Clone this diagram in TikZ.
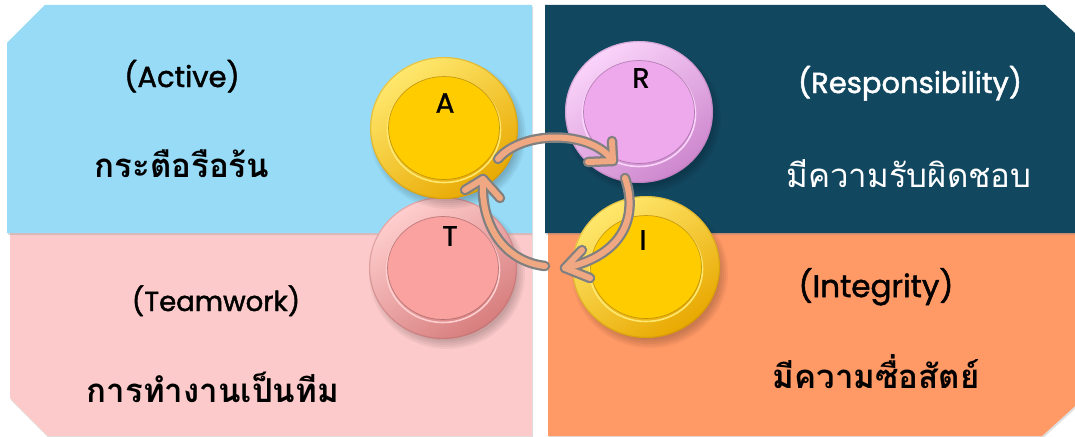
\documentclass[tikz,border=0pt]{standalone}
\usepackage{fontspec}
\newfontfamily\thaifont[Script=Thai]{Loma}
\newfontfamily\latfont[FakeBold=1.6]{Poppins}
\newfontfamily\letfont[FakeBold=1.2]{Poppins}
\usetikzlibrary{shadows,shapes.geometric,calc}
\definecolor{pblue}{RGB}{151,219,247}
\definecolor{ppink}{RGB}{252,202,202}
\definecolor{pdark}{RGB}{18,71,96}
\definecolor{porange}{RGB}{255,153,102}
\definecolor{goldbase}{RGB}{255,204,0}
\definecolor{golddark}{RGB}{232,168,0}
\definecolor{goldlight}{RGB}{255,232,110}
\definecolor{vbase}{RGB}{238,168,236}
\definecolor{vdark}{RGB}{205,135,205}
\definecolor{vlight}{RGB}{250,212,250}
\definecolor{rbase}{RGB}{250,162,160}
\definecolor{rdark}{RGB}{215,125,125}
\definecolor{rlight}{RGB}{255,206,206}
\definecolor{peach}{RGB}{240,168,130}
\definecolor{agray}{RGB}{128,128,128}
% #1 x, #2 y, #3 light, #4 base, #5 dark
\newcommand\coinpic[5]{%
  \begin{scope}[shift={(#1,#2)}]
    \foreach \k in {0,2,4,6,8}{
      \fill[black,opacity=.045] (4,6) ellipse [x radius=70+\k, y radius=67+\k];}
    \shade[top color=#3, middle color=#4, bottom color=#5, shading angle=35]
      (0,0) ellipse [x radius=74, y radius=71];
    \draw[#5!80!black, opacity=.35, line width=1.2pt] (0,0) ellipse [x radius=73.4, y radius=70.4];
    \draw[#3, line width=1.6pt] (0,2) ellipse [x radius=56.5, y radius=52.5];
    \fill[#4] (0,0) ellipse [x radius=55.5, y radius=51.5];
    \draw[#5!70!black, line width=.7pt, opacity=.6] (0,0) ellipse [x radius=55.5, y radius=51.5];
  \end{scope}}
\tikzset{
  panelshadow/.style={drop shadow={opacity=0.25, shadow xshift=1pt, shadow yshift=-2pt}},
  lat/.style={font=\latfont\fontsize{29}{34}\selectfont, anchor=base, inner sep=0pt},
  thb/.style={font=\thaifont\bfseries\fontsize{33}{38}\selectfont, anchor=base, inner sep=0pt},
  thr/.style={font=\thaifont\fontsize{33}{38}\selectfont, anchor=base, inner sep=0pt},
  coin/.style={ellipse, minimum width=148pt, minimum height=142pt, inner sep=0pt},
  letter/.style={font=\letfont\fontsize{28}{32}\selectfont, inner sep=0pt},
  arrowout/.style={draw=agray, line width=10.5pt, line cap=round, line join=round},
  arrowin/.style={draw=peach, line width=6pt, line cap=round, line join=round},
}
\begin{document}
\begin{tikzpicture}[x=1pt,y=-1pt]
\useasboundingbox (0,0) rectangle (1075,436);
\fill[white] (0,0) rectangle (1075,436);
% panels
\fill[ppink, panelshadow] (10,233) -- (532,233) -- (532,436) -- (48,436) -- (10,398) -- cycle;
\fill[porange, panelshadow] (548,233) -- (1075,233) -- (1075,406) -- (1042,436) -- (548,436) -- cycle;
\fill[pblue, panelshadow] (7,43) -- (45,5) -- (532,5) -- (532,233) -- (7,233) -- cycle;
\fill[pdark, panelshadow] (545,5) -- (1045,5) -- (1075,33) -- (1075,233) -- (545,233) -- cycle;
% texts
\node[lat] (tA) at (182,87) {(Active)};
\node[thb] (hA) at (182,177) {กระตือรือร้น};
\node[lat, text=white] (tR) at (910,93) {(Responsibility)};
\node[thr, text=white] (hR) at (909,187) {มีความรับผิดชอบ};
\node[lat, font=\latfont\fontsize{27.5}{32}\selectfont] (tT) at (216,311) {(Teamwork)};
\node[thb] (hT) at (213,402) {การทำงานเป็นทีม};
\node[lat, font=\latfont\fontsize{31}{36}\selectfont] (tI) at (876,297) {(Integrity)};
\node[thb] (hI) at (876,388) {มีความซื่อสัตย์};
% coins
\coinpic{443}{268}{rlight}{rbase}{rdark}
\coinpic{646}{267}{goldlight}{goldbase}{golddark}
\coinpic{444}{128}{goldlight}{goldbase}{golddark}
\coinpic{639}{112}{vlight}{vbase}{vdark}
\node[coin] (T) at (443,268) {};
\node[coin] (I) at (646,267) {};
\node[coin] (A) at (444,128) {};
\node[coin] (R) at (639,112) {};
\node[letter] (lA) at (445,103) {A};
\node[letter] (lR) at (641,78) {R};
\node[letter] (lT) at (450,236) {T};
\node[letter] (lI) at (643,240) {I};
% arrow coordinates
\coordinate (a1s) at ($(A)+(54,31)$);
\coordinate (a1e) at ($(R)+(-26,49)$);
\coordinate (a1u) at ($(R)+(-27,29)$);
\coordinate (a1l) at ($(R)+(-51,50)$);
\coordinate (a2s) at ($(R)+(-14,66)$);
\coordinate (a2e) at ($(I)+(-81,1)$);
\coordinate (a2u) at ($(I)+(-64,-17)$);
\coordinate (a2d) at ($(I)+(-56,11)$);
\coordinate (a3s) at ($(T)+(102,-2)$);
\coordinate (a3e) at ($(A)+(39,51)$);
\coordinate (a3l) at ($(A)+(21,62)$);
\coordinate (a3r) at ($(A)+(56,70)$);
% arrows
\draw[arrowout] (a1s) .. controls (522,130) and (592,130) .. (a1e);
\draw[arrowout] (a1u) -- (a1e) -- (a1l);
\draw[arrowin] (a1s) .. controls (522,130) and (592,130) .. (a1e);
\draw[arrowin] (a1u) -- (a1e) -- (a1l);
\draw[arrowout] (a2s) .. controls (638,215) and (625,255) .. (a2e);
\draw[arrowout] (a2u) -- (a2e) -- (a2d);
\draw[arrowin] (a2s) .. controls (638,215) and (625,255) .. (a2e);
\draw[arrowin] (a2u) -- (a2e) -- (a2d);
\draw[arrowout] (a3s) .. controls (508,262) and (480,230) .. (a3e);
\draw[arrowout] (a3l) -- (a3e) -- (a3r);
\draw[arrowin] (a3s) .. controls (508,262) and (480,230) .. (a3e);
\draw[arrowin] (a3l) -- (a3e) -- (a3r);
\end{tikzpicture}
\end{document}
